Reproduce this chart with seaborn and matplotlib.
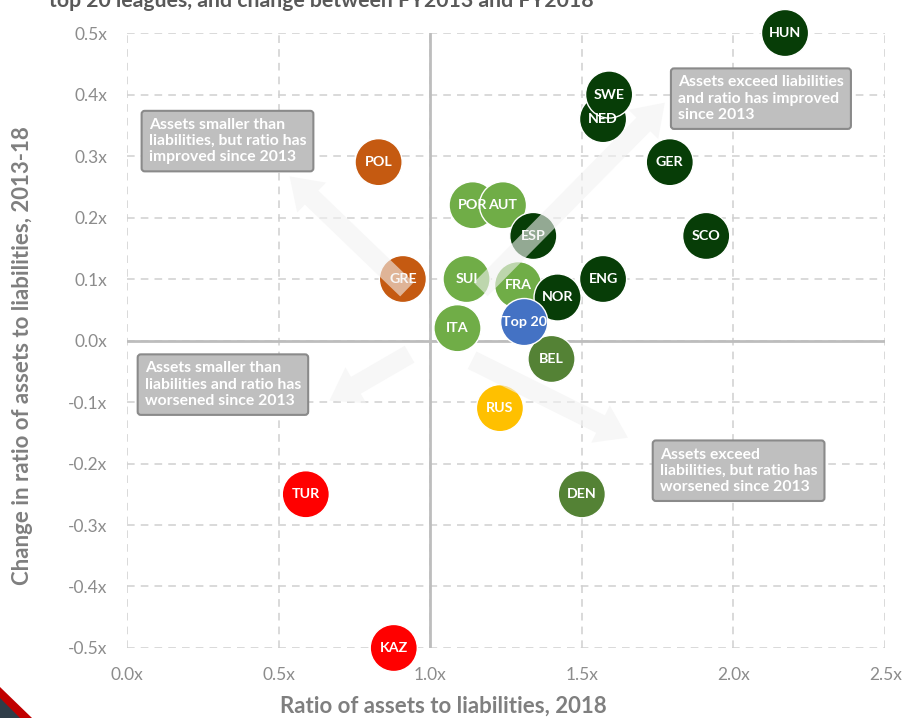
import matplotlib
matplotlib.use('Agg')
import matplotlib.pyplot as plt
from matplotlib.patches import Polygon
from matplotlib.ticker import FuncFormatter
import numpy as np
import pandas as pd
import seaborn as sns

leagues = ['HUN', 'NED', 'SWE', 'GER', 'SCO', 'POL', 'POR', 'AUT', 'ESP', 'GRE', 'SUI',
           'ITA', 'FRA', 'NOR', 'ENG', 'BEL', 'RUS', 'DEN', 'TUR', 'KAZ', 'Top 20']
ratio_2018 = [2.17, 1.57, 1.59, 1.79, 1.91, 0.83, 1.14, 1.24, 1.34, 0.91, 1.12,
              1.09, 1.29, 1.42, 1.57, 1.40, 1.23, 1.50, 0.59, 0.88, 1.31]
change_13_18 = [0.50, 0.36, 0.40, 0.29, 0.17, 0.29, 0.22, 0.22, 0.17, 0.10, 0.10,
                0.02, 0.09, 0.07, 0.10, -0.03, -0.11, -0.25, -0.25, -0.50, 0.03]
group = ['up_high', 'up_high', 'up_high', 'up_high', 'up_high', 'below_up', 'up_mid', 'up_mid',
         'up_high', 'below_up', 'up_mid', 'up_mid', 'up_mid', 'up_high', 'up_high', 'down',
         'rus', 'down', 'below_down', 'below_down', 'top20']

palette = {'up_high': '#073d07', 'up_mid': '#70ad47', 'down': '#548235',
           'below_up': '#c55a11', 'below_down': '#ff0000', 'rus': '#ffc000', 'top20': '#4472c4'}

x_ticks = [0.0, 0.5, 1.0, 1.5, 2.0, 2.5]
y_ticks = [-0.5, -0.4, -0.3, -0.2, -0.1, 0.0, 0.1, 0.2, 0.3, 0.4, 0.5]

boxes = [
    (0.072, 0.362, 'Assets smaller than\nliabilities, but ratio has\nimproved since 2013'),
    (1.817, 0.431, 'Assets exceed liabilities\nand ratio has improved\nsince 2013'),
    (0.059, -0.034, 'Assets smaller than\nliabilities and ratio has\nworsened since 2013'),
    (1.757, -0.174, 'Assets exceed\nliabilities, but ratio has\nworsened since 2013'),
]
arrows = [
    ((1.16, 0.08), (1.78, 0.39)),
    ((0.93, 0.08), (0.53, 0.27)),
    ((0.94, -0.02), (0.66, -0.10)),
    ((1.13, -0.03), (1.66, -0.16)),
]

df = pd.DataFrame({'league': leagues, 'ratio': ratio_2018, 'change': change_13_18, 'group': group})

sns.set_style('white')
plt.rcParams['font.family'] = ['Lato', 'DejaVu Sans']

fig = plt.figure(figsize=(9.06, 7.18), dpi=100)
ax = fig.add_axes([0.140, 0.0975, 0.837, 0.8565])

ax.set_xlim(0, 2.5)
ax.set_ylim(-0.5, 0.5)
ax.set_xticks(x_ticks)
ax.set_yticks(y_ticks)
ax.grid(True, color='#d0d0d0', linestyle=(0, (5, 4)), linewidth=1.1)
ax.set_axisbelow(True)
for s in ax.spines.values():
    s.set_visible(False)
ax.axvline(1.0, color='#bdbdbd', lw=2, zorder=1)
ax.axhline(0.0, color='#bdbdbd', lw=2, zorder=1)

sns.scatterplot(data=df, x='ratio', y='change', hue='group', palette=palette, s=1150,
                edgecolor='white', linewidth=1.0, legend=False, ax=ax, zorder=3, clip_on=False)

for name, xv, yv in zip(leagues, ratio_2018, change_13_18):
    ax.text(xv, yv, name, color='white', fontsize=10.3, fontweight='bold',
            ha='center', va='center', zorder=4, clip_on=False)

for tail, head in arrows:
    ax.annotate('', xy=head, xytext=tail,
                arrowprops=dict(arrowstyle='simple,head_width=1.5,head_length=1.1,tail_width=0.7',
                                mutation_scale=20, fc='#f2f2f2', ec='none', alpha=0.6),
                zorder=5)

for bx, by, txt in boxes:
    ax.text(bx, by, txt, color='white', fontsize=11.3, fontweight='bold',
            ha='left', va='top', linespacing=1.2, zorder=6,
            bbox=dict(boxstyle='round,pad=0.45,rounding_size=0.2', fc='#bfbfbf', ec='#8a8a8a', lw=1.5))

fmt = FuncFormatter(lambda v, p: f'{abs(v):.1f}x' if abs(v) < 1e-9 else f'{v:.1f}x')
ax.xaxis.set_major_formatter(fmt)
ax.yaxis.set_major_formatter(fmt)
ax.tick_params(axis='both', length=0, labelsize=12.5, labelcolor='#8c8c8c')
ax.tick_params(axis='x', pad=14)
ax.tick_params(axis='y', pad=14)

ax.set_xlabel('Ratio of assets to liabilities, 2018', fontsize=16, fontweight='bold',
              color='#7f7f7f')
ax.set_ylabel('Change in ratio of assets to liabilities, 2013-18', fontsize=16, fontweight='bold',
              color='#7f7f7f')
ax.xaxis.set_label_coords(0.418, -0.077)
ax.yaxis.set_label_coords(-0.124, 0.476)

fig.text(0.054, 0.990, 'top 20 leagues, and change between FY2013 and FY2018', fontsize=15.3,
         fontweight='bold', color='#595959', ha='left', va='baseline')

# corner decoration
fig.patches.append(Polygon([(0, 31 / 718), (32 / 906, 0), (0, 0)], closed=True,
                           transform=fig.transFigure, fc='#c00000', ec='none'))
fig.patches.append(Polygon([(0, 20 / 718), (20 / 906, 0), (0, 0)], closed=True,
                           transform=fig.transFigure, fc='#2f3d48', ec='none'))

fig.savefig('out.png', dpi=100)
